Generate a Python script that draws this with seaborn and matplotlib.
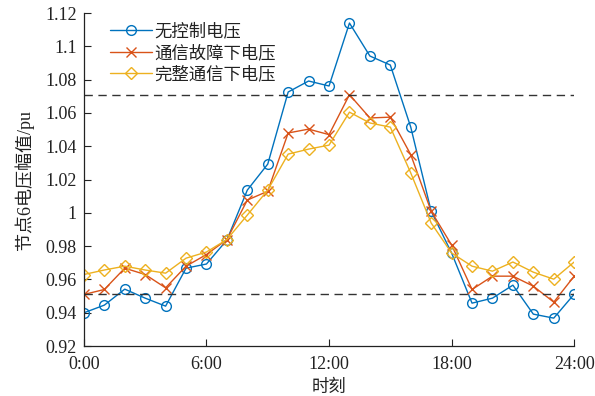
import matplotlib
matplotlib.use("Agg")
import matplotlib.pyplot as plt
from matplotlib.ticker import FuncFormatter
import numpy as np
import pandas as pd
import seaborn as sns

hours = list(range(25))
no_control = [0.9400, 0.9446, 0.9542, 0.9488, 0.9440, 0.9668, 0.9693, 0.9837,
              1.0137, 1.0293, 1.0726, 1.0792, 1.0762, 1.1140, 1.0942, 1.0888,
              1.0515, 1.0010, 0.9759, 0.9458, 0.9488, 0.9566, 0.9392, 0.9368,
              0.9512]
comm_fault = [0.9510, 0.9540, 0.9668, 0.9630, 0.9550, 0.9680, 0.9750, 0.9840,
              1.0077, 1.0130, 1.0480, 1.0503, 1.0470, 1.0710, 1.0570, 1.0575,
              1.0350, 1.0010, 0.9807, 0.9540, 0.9620, 0.9620, 0.9560, 0.9464,
              0.9620]
full_comm = [0.9630, 0.9657, 0.9680, 0.9657, 0.9638, 0.9728, 0.9765, 0.9840,
             0.9987, 1.0137, 1.0353, 1.0383, 1.0407, 1.0605, 1.0540, 1.0515,
             1.0240, 0.9939, 0.9759, 0.9680, 0.9650, 0.9705, 0.9644, 0.9602,
             0.9705]
series_names = ["无控制电压", "通信故障下电压", "完整通信下电压"]
upper_limit = 1.071
lower_limit = 0.951
x_ticks = [0, 6, 12, 18, 24]
x_tick_labels = ["0:00", "6:00", "12:00", "18:00", "24:00"]
y_ticks = [0.92, 0.94, 0.96, 0.98, 1.00, 1.02, 1.04, 1.06, 1.08, 1.10, 1.12]

sns.set_theme(style="ticks")
plt.rcParams["font.family"] = ["Liberation Serif", "Noto Sans CJK SC"]
plt.rcParams["axes.unicode_minus"] = False

df = pd.DataFrame({
    "hour": hours * 3,
    "voltage": no_control + comm_fault + full_comm,
    "series": [series_names[0]] * 25 + [series_names[1]] * 25 + [series_names[2]] * 25,
})

colors = ["#0072BD", "#D95319", "#EDB120"]
markers = ["o", "x", "D"]
msizes = [7, 7, 6]

fig = plt.figure(figsize=(5.95, 3.96), dpi=100)
ax = fig.add_axes([0.141, 0.126, 0.824, 0.841])

for name, c, m, ms in zip(series_names, colors, markers, msizes):
    sub = df[df["series"] == name]
    sns.lineplot(data=sub, x="hour", y="voltage", ax=ax, color=c, linewidth=1.0,
                 marker=m, markersize=ms, markerfacecolor="none",
                 markeredgecolor=c, markeredgewidth=1.0, label=name)

ax.axhline(upper_limit, color="#333333", linestyle=(0, (6, 4)), linewidth=1.0)
ax.axhline(lower_limit, color="#333333", linestyle=(0, (6, 4)), linewidth=1.0)

ax.set_xlim(0, 24)
ax.set_ylim(0.92, 1.12)
ax.set_xticks(x_ticks)
ax.set_xticklabels(x_tick_labels)
ax.set_yticks(y_ticks)
ax.yaxis.set_major_formatter(FuncFormatter(lambda v, p: f"{v:g}"))
ax.tick_params(direction="in", length=5, width=0.8, labelsize=13, colors="#222222")
ax.tick_params(axis="x", pad=7)
ax.tick_params(axis="y", pad=5)
for s in ["top", "right"]:
    ax.spines[s].set_visible(False)
for s in ["left", "bottom"]:
    ax.spines[s].set_color("#222222")
    ax.spines[s].set_linewidth(0.9)

ax.set_xlabel("时刻", fontsize=12.5, color="#222222", labelpad=5)
ax.set_ylabel("节点6电压幅值/pu", fontsize=13, color="#222222", labelpad=8)

leg = ax.legend(loc="upper left", bbox_to_anchor=(0.04, 0.99), frameon=False,
                fontsize=12.5, handlelength=2.4, handletextpad=0.1,
                labelspacing=0.28, borderaxespad=0)
for t in leg.get_texts():
    t.set_color("#222222")

fig.savefig("out.png", dpi=100)
